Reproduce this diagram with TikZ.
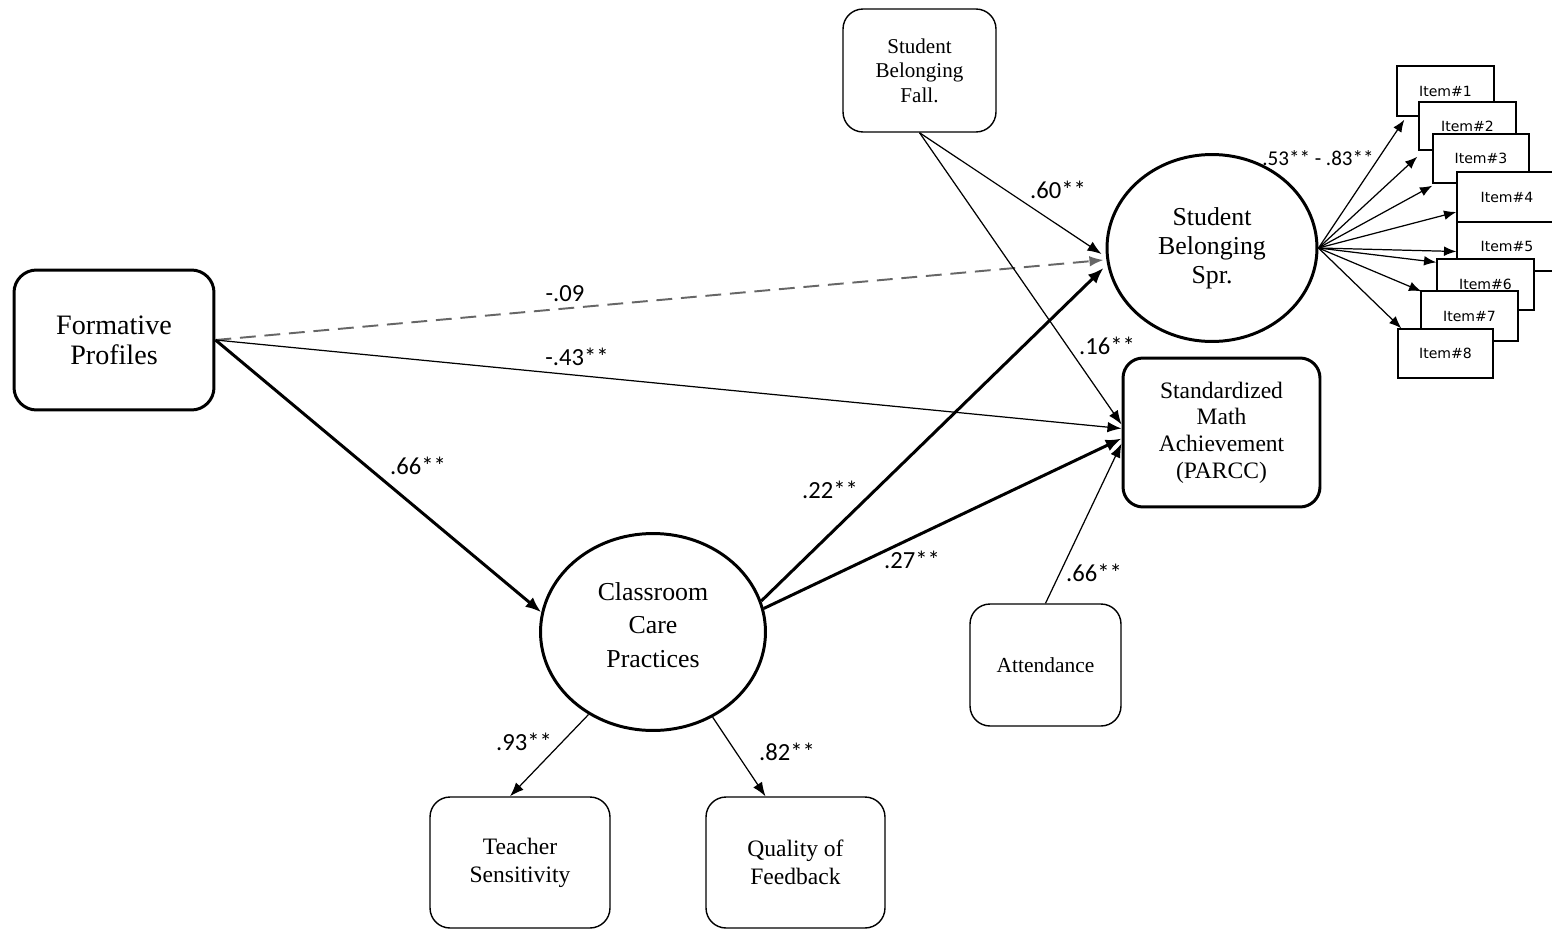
\documentclass[tikz,border=0pt]{standalone}
\usepackage{fontspec}
\setmainfont{Liberation Serif}
\newfontfamily\labfont{Carlito}
\newfontfamily\itemfont{DejaVu Sans}
\usetikzlibrary{shapes.geometric,arrows.meta,calc}
\begin{document}
\begin{tikzpicture}[x=0.02cm,y=-0.02cm,
  box/.style={draw, rounded corners=0.4cm, align=center, inner sep=0pt, line width=0.8pt},
  thickbox/.style={box, line width=1.7pt},
  latent/.style={draw, ellipse, align=center, inner sep=0pt, line width=1.7pt},
  itembox/.style={draw, fill=white, line width=0.8pt, inner sep=0pt, font=\itemfont\fontsize{8}{9}\selectfont},
  coef/.style={font=\labfont\fontsize{14}{16}\selectfont, inner sep=0pt},
  arr/.style={-{Latex[length=8pt,width=6pt]}, line width=0.7pt},
  tarr/.style={-{Latex[length=9pt,width=7pt]}, line width=1.7pt},
  darr/.style={arr, draw=gray!80!black, dash pattern=on 9pt off 5pt, line width=1.1pt},
  iarr/.style={-{Latex[length=7pt,width=5.5pt]}, line width=0.7pt}
]
\clip (0,0) rectangle (1552,930);
\fill[white] (0,0) rectangle (1552,930);

% nodes
\node[thickbox, rounded corners=0.45cm, minimum width=4cm, minimum height=2.8cm,
  font=\fontsize{16}{17}\selectfont] (fp) at (114,340) {Formative\\Profiles};
\node[box, minimum width=3.06cm, minimum height=2.46cm,
  font=\fontsize{12}{14}\selectfont] (sbf) at (919.5,70.5) {Student\\Belonging\\Fall.};
\node[latent, minimum width=4.2cm, minimum height=3.74cm,
  font=\fontsize{14.7}{16.4}\selectfont] (sbs) at (1212,248) {Student\\Belonging\\Spr.};
\node[thickbox, minimum width=3.94cm, minimum height=2.98cm,
  font=\fontsize{13.4}{15.2}\selectfont] (parcc) at (1221.5,432.5) {Standardized\\Math\\Achievement\\(PARCC)};
\node[box, minimum width=3.02cm, minimum height=2.44cm,
  font=\fontsize{12.2}{14}\selectfont] (att) at (1045.5,665) {Attendance};
\node[latent, minimum width=4.5cm, minimum height=3.94cm] (ccp) at (653,632) {};
\node[align=center, inner sep=0pt, font=\fontsize{14.7}{19}\selectfont] (ccptext) at (653,625) {Classroom\\Care\\Practices};
\node[box, minimum width=3.6cm, minimum height=2.62cm,
  font=\fontsize{13.4}{16}\selectfont] (ts) at (520,862.5) {Teacher\\Sensitivity};
\node[box, minimum width=3.58cm, minimum height=2.62cm,
  font=\fontsize{13.4}{16}\selectfont] (qf) at (795.5,862.5) {Quality of\\Feedback};

% items
\node[itembox, minimum width=1.94cm, minimum height=1.0cm] (item1) at (1445.5,91) {Item\#1};
\node[itembox, minimum width=1.94cm, minimum height=0.96cm] (item2) at (1467.5,126) {Item\#2};
\node[itembox, minimum width=1.92cm, minimum height=0.98cm] (item3) at (1481,158.5) {Item\#3};
\node[itembox, minimum width=2.0cm, minimum height=1.0cm] (item4) at (1507,197) {Item\#4};
\node[itembox, minimum width=2.0cm, minimum height=0.98cm] (item5) at (1507,246.5) {Item\#5};
\node[itembox, minimum width=1.94cm, minimum height=1.02cm] (item6) at (1485.5,284.5) {Item\#6};
\node[itembox, minimum width=1.94cm, minimum height=1.0cm] (item7) at (1469.5,316) {Item\#7};
\node[itembox, minimum width=1.9cm, minimum height=0.98cm] (item8) at (1445.5,353.5) {Item\#8};

% end points
\coordinate (sin1) at ($(sbs.west)+(-2,12)$);
\coordinate (sin2) at ($(sbs.west)+(-2,20)$);
\coordinate (sin3) at ($(sbs.west)+(-4,6)$);
\coordinate (pin1) at ($(parcc.west)+(0,-4)$);
\coordinate (pin2) at ($(parcc.west)+(0,6)$);
\coordinate (pin3) at ($(parcc.west)+(0,-8)$);
\coordinate (pin4) at ($(parcc.west)+(0,11)$);

% connectors
\draw[darr] (fp.east) -- (sin1);
\draw[arr] (fp.east) -- (pin1);
\draw[tarr] (fp.east) -- (ccp.170);
\draw[tarr] (ccp.16) -- (sin2);
\draw[tarr] (ccp.12) -- (pin2);
\draw[arr] (sbf.south) -- (sin3);
\draw[arr] (sbf.south) -- (pin3);
\draw[arr] (att.north) -- (pin4);
\draw[arr] (ccp.232) -- ($(ts.north)+(-10,0)$);
\draw[arr] (ccp.305) -- ($(qf.north)+(-30,0)$);

\draw[iarr] (sbs.east) -- ($(item1.south west)+(8,3)$);
\draw[iarr] (sbs.east) -- ($(item2.south west)+(-1,6)$);
\draw[iarr] (sbs.east) -- ($(item3.south west)+(0,2)$);
\draw[iarr] (sbs.east) -- ($(item4.west)+(0,15)$);
\draw[iarr] (sbs.east) -- ($(item5.west)+(0,5)$);
\draw[iarr] (sbs.east) -- ($(item6.north west)+(0,4)$);
\draw[iarr] (sbs.east) -- ($(item7.north west)+(1,1)$);
\draw[iarr] (sbs.east) -- ($(item8.north west)+(4,0)$);

% coefficient labels
\node[coef] (l09) at (565,294) {-.09};
\node[coef] (l43) at (577,357) {-.43**};
\node[coef] (l66) at (418,466) {.66**};
\node[coef] (l22) at (830,490) {.22**};
\node[coef] (l27) at (912,560) {.27**};
\node[coef] (l60) at (1058,190) {.60**};
\node[coef] (l16) at (1107,346) {.16**};
\node[coef] (l66b) at (1094,573) {.66**};
\node[coef] (l93) at (524,742) {.93**};
\node[coef] (l82) at (787,752) {.82**};
\node[coef, font=\labfont\fontsize{12}{14}\selectfont] (lrange) at (1318,158) {.53** - .83**};
\end{tikzpicture}
\end{document}
